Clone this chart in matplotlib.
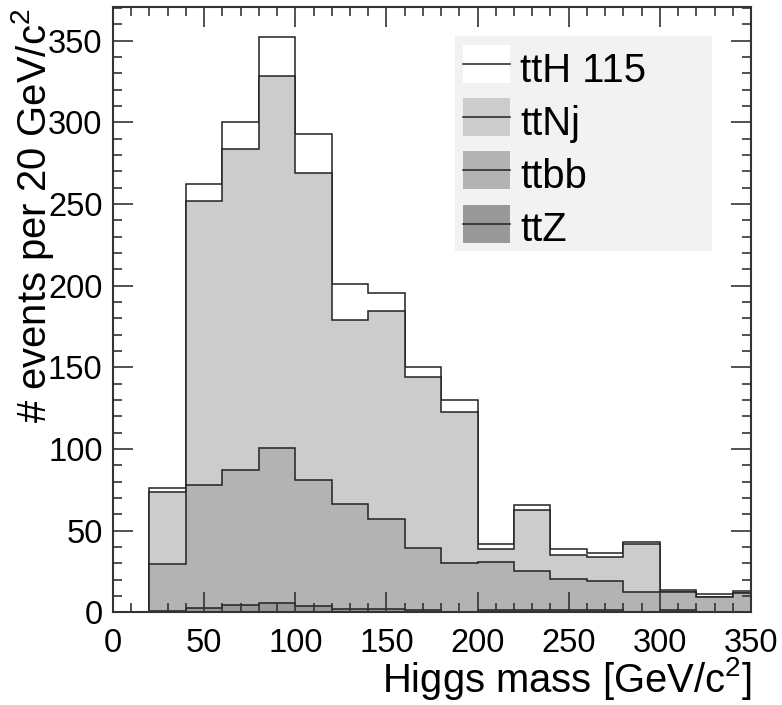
import matplotlib
matplotlib.use("Agg")
import matplotlib.pyplot as plt
from matplotlib.patches import Rectangle
from matplotlib.ticker import MultipleLocator
import numpy as np

plt.rcParams['font.family'] = ['Liberation Sans', 'DejaVu Sans']
plt.rcParams['mathtext.fontset'] = 'custom'
plt.rcParams['mathtext.rm'] = 'Liberation Sans'
plt.rcParams['mathtext.it'] = 'Liberation Sans'

# bin edges (20 GeV bins)
edges = [20, 40, 60, 80, 100, 120, 140, 160, 180, 200, 220, 240, 260, 280, 300, 320, 340, 360]

# events per bin for each sample
ttZ = [1.1, 2.9, 4.7, 5.9, 3.9, 2.2, 2.2, 1.4, 0.4, 1.2, 1.2, 1.2, 1.2, 0.4, 1.2, 0.4, 0.4]
ttbb = [28.3, 75.1, 82.4, 94.5, 77.1, 64.3, 54.9, 38.0, 29.6, 29.4, 24.1, 19.4, 18.0, 11.8, 11.0, 8.8, 11.4]
ttNj = [44.5, 174.0, 196.4, 228.0, 188.0, 112.7, 127.4, 104.5, 92.7, 8.0, 37.2, 14.7, 14.5, 29.4, 0.0, 0.2, 0.1]
ttH = [2.4, 10.0, 16.5, 24.1, 24.0, 21.8, 10.8, 6.5, 7.1, 3.0, 3.0, 3.3, 2.4, 1.4, 1.3, 1.6, 1.1]

labels = ['ttH 115', 'ttNj', 'ttbb', 'ttZ']
colors = ['#ffffff', '#cccccc', '#b3b3b3', '#999999']

W, H = 782, 705
fig = plt.figure(figsize=(W / 100, H / 100), dpi=100)
ax = fig.add_axes([113 / W, 1 - 612.3 / H, (751 - 113) / W, (612.3 - 7.3) / H])

# stacked histogram: draw cumulative sums, top first
stack = np.cumsum([ttZ, ttbb, ttNj, ttH], axis=0)[::-1]
for vals, c in zip(stack, colors):
    ax.stairs(vals, edges, fill=True, facecolor=c, edgecolor='#222222',
              linewidth=1.1, baseline=0)

ax.set_xlim(0, 350)
ax.set_ylim(0, 370.5)

ax.xaxis.set_major_locator(MultipleLocator(50))
ax.xaxis.set_minor_locator(MultipleLocator(10))
ax.yaxis.set_major_locator(MultipleLocator(50))
ax.yaxis.set_minor_locator(MultipleLocator(10))
ax.tick_params(which='both', direction='in', top=True, right=True, color='#333333', width=1.2)
ax.tick_params(which='major', length=14.5)
ax.tick_params(which='minor', length=6.5)
ax.tick_params(axis='x', labelsize=23.5, pad=11)
ax.tick_params(axis='y', labelsize=23.5, pad=7.5)
for s in ax.spines.values():
    s.set_color('#333333')
    s.set_linewidth(1.5)

# axis titles
fig.text(752 / W, 1 - 692 / H, 'Higgs mass [GeV/c$^{2}$]', fontsize=28.8,
         ha='right', va='baseline')
fig.text(46 / W, 1 - 8 / H, '# events per 20 GeV/c$^{2}$', fontsize=28.8,
         rotation=90, rotation_mode='anchor', ha='right', va='baseline')

# legend box
fig.patches.append(Rectangle((455 / W, 1 - 251 / H), (712 - 455) / W, (251 - 36) / H,
                             transform=fig.transFigure, facecolor='#f2f2f2',
                             edgecolor='none', zorder=5))
for i, (lab, c) in enumerate(zip(labels, colors)):
    yc = 64 + 53.2 * i
    fig.patches.append(Rectangle((463 / W, 1 - (yc + 19) / H), 47 / W, 38 / H,
                                 transform=fig.transFigure, facecolor=c,
                                 edgecolor='none', zorder=6))
    fig.lines.append(plt.Line2D([463 / W, 510 / W], [1 - yc / H, 1 - yc / H],
                                transform=fig.transFigure, color='#222222',
                                linewidth=1.1, zorder=7))
    fig.text(520 / W, 1 - (yc + 17.5) / H, lab, fontsize=28.8, ha='left',
             va='baseline', zorder=8)

plt.savefig('out.png', dpi=100)
